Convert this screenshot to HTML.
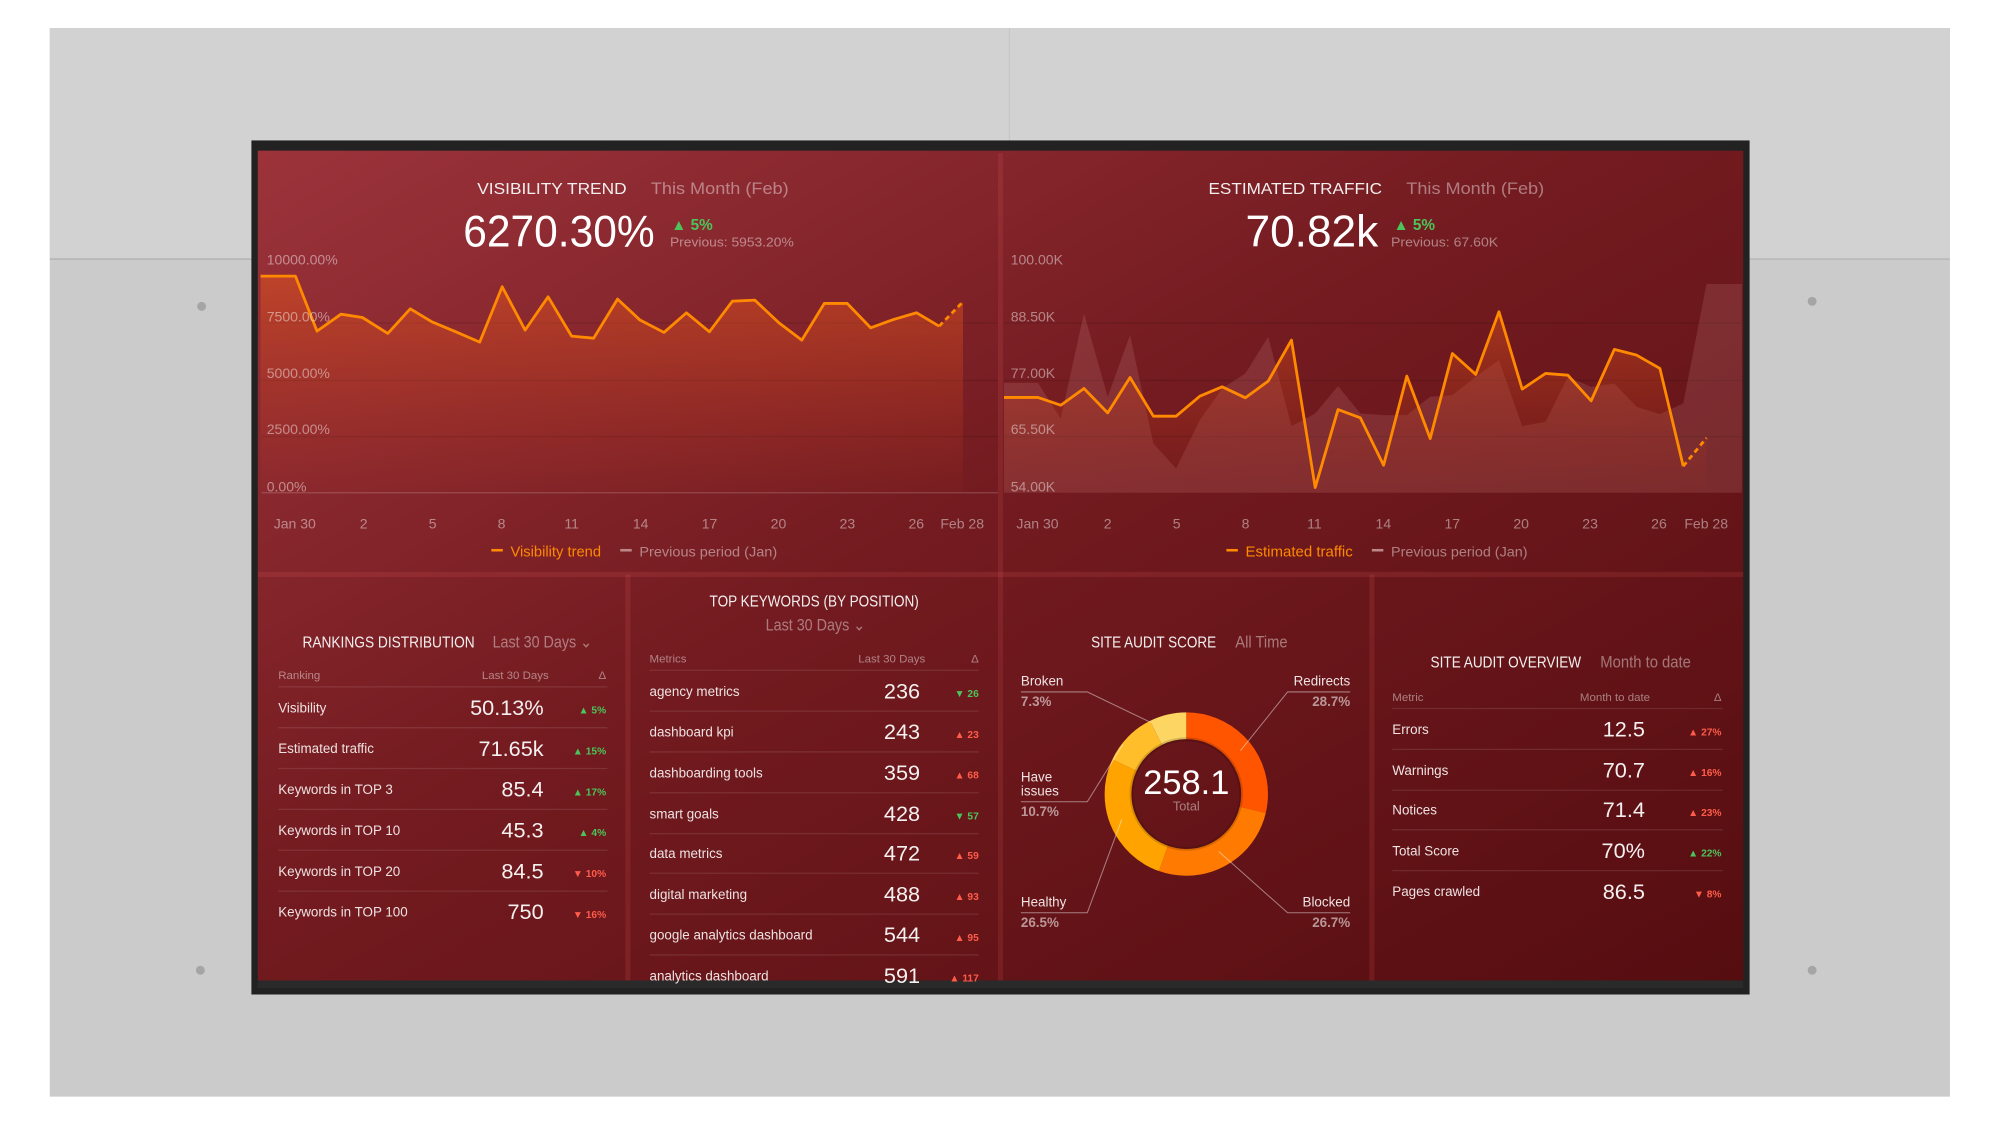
<!DOCTYPE html>
<html><head><meta charset="utf-8"><style>
html,body{margin:0;padding:0;background:#fff;}
svg{display:block;}
text{font-family:"Liberation Sans",sans-serif;}
.t{fill:#f3eeee;font-size:12.5px;}
.s{fill:rgba(255,255,255,0.42);font-size:13px;}
.ax{fill:rgba(255,255,255,0.45);font-size:11px;}
.hd{fill:rgba(255,255,255,0.45);font-size:9px;}
.rl{fill:#eee2e2;font-size:10.5px;}
.v{fill:#f5f0f0;font-size:17px;}
.up{fill:#4cc45a;font-size:8px;font-weight:bold;}
.dn{fill:#ff5c4a;font-size:8px;font-weight:bold;}
.dl{fill:rgba(255,255,255,0.55);font-size:10.5px;font-weight:bold;}
</style></head><body>
<svg width="2001" height="1126" viewBox="0 0 1568 882" preserveAspectRatio="none" xmlns="http://www.w3.org/2000/svg">
<defs>
<linearGradient id="scr" x1="0" y1="0" x2="1" y2="1">
<stop offset="0" stop-color="#9c333b"/><stop offset="0.45" stop-color="#731b20"/><stop offset="1" stop-color="#560d10"/>
</linearGradient>
<linearGradient id="fillL" x1="0" y1="0" x2="0" y2="1">
<stop offset="0" stop-color="#e0541e" stop-opacity="0.55"/><stop offset="1" stop-color="#c03a1e" stop-opacity="0.05"/>
</linearGradient>
<linearGradient id="fillR" x1="0" y1="0" x2="0" y2="1">
<stop offset="0" stop-color="#d9521d" stop-opacity="0.5"/><stop offset="1" stop-color="#b03018" stop-opacity="0.05"/>
</linearGradient>
</defs>
<rect x="0" y="0" width="1568" height="882" fill="#fff"/>
<rect x="39" y="22" width="1489" height="837" fill="#cbcbcb"/>
<rect x="39" y="22" width="1489" height="180" fill="#d2d2d2"/>
<line x1="39" y1="203" x2="198" y2="203" stroke="#b0b0b0" stroke-width="1"/>
<line x1="1370" y1="203" x2="1528" y2="203" stroke="#b5b5b5" stroke-width="1"/>
<line x1="791" y1="22" x2="791" y2="111" stroke="#c6c6c6" stroke-width="1"/>
<circle cx="158" cy="240" r="3.5" fill="#a5a5a5"/><circle cx="1420" cy="236" r="3.5" fill="#a5a5a5"/>
<circle cx="157" cy="760" r="3.5" fill="#a5a5a5"/><circle cx="1420" cy="760" r="3.5" fill="#a5a5a5"/>
<!-- monitor -->
<rect x="197" y="110" width="1174" height="669" fill="#222" />
<rect x="202" y="118" width="1164" height="650" fill="url(#scr)"/>
<rect x="202" y="768" width="1164" height="6" fill="#2a2a2a"/>
<g stroke="rgba(255,110,110,0.13)" stroke-width="4">
<line x1="784" y1="120" x2="784" y2="768"/>
<line x1="202" y1="450" x2="1366" y2="450"/>
<line x1="492" y1="450" x2="492" y2="768"/>
<line x1="1075" y1="450" x2="1075" y2="768"/>
</g>

<!-- LEFT CHART -->
<g stroke="rgba(0,0,0,0.12)" stroke-width="1">
<line x1="205" y1="253" x2="782" y2="253"/><line x1="205" y1="298" x2="782" y2="298"/><line x1="205" y1="342" x2="782" y2="342"/>
</g>
<line x1="205" y1="386" x2="782" y2="386" stroke="rgba(255,255,255,0.18)"/>
<polygon fill="url(#fillL)" points="204.2,216.3 231.5,216.3 248.4,259.4 267.2,246.1 284,248.7 303.9,261.2 321.5,241.9 338.4,252.1 357.2,259.9 375.9,268 393.5,224.6 411.5,258.6 429.5,232.5 447.9,263.3 465.2,264.9 483.9,234.3 501.5,250.7 520.3,260.4 537.9,245 555.9,259.9 573.9,235.9 591.5,235.1 610.3,252.8 628.3,266.4 645.9,237.7 663.9,237.7 682.3,256.8 700.3,250.2 718.3,245 735.9,255.5 754.6,236.4 754.6,386 204.2,386"/>
<polyline fill="none" stroke="#ff8a00" stroke-width="2.2" stroke-linejoin="round" points="204.2,216.3 231.5,216.3 248.4,259.4 267.2,246.1 284,248.7 303.9,261.2 321.5,241.9 338.4,252.1 357.2,259.9 375.9,268 393.5,224.6 411.5,258.6 429.5,232.5 447.9,263.3 465.2,264.9 483.9,234.3 501.5,250.7 520.3,260.4 537.9,245 555.9,259.9 573.9,235.9 591.5,235.1 610.3,252.8 628.3,266.4 645.9,237.7 663.9,237.7 682.3,256.8 700.3,250.2 718.3,245 735.9,255.5"/>
<line x1="735.9" y1="255.5" x2="754.6" y2="236.4" stroke="#ff8a00" stroke-width="2.2" stroke-dasharray="4,3"/>
<g class="ax">
<text x="209" y="207">10000.00%</text><text x="209" y="252">7500.00%</text><text x="209" y="296">5000.00%</text><text x="209" y="340">2500.00%</text><text x="209" y="385">0.00%</text>
</g>
<g class="ax" text-anchor="middle">
<text x="231" y="414">Jan 30</text><text x="285" y="414">2</text><text x="339" y="414">5</text><text x="393" y="414">8</text><text x="448" y="414">11</text><text x="502" y="414">14</text><text x="556" y="414">17</text><text x="610" y="414">20</text><text x="664" y="414">23</text><text x="718" y="414">26</text><text x="754" y="414">Feb 28</text>
</g>
<rect x="385" y="430" width="9" height="2" fill="#ff8a00"/><text x="400" y="436" fill="#ff8a00" font-size="11.5" textLength="71" lengthAdjust="spacingAndGlyphs">Visibility trend</text>
<rect x="486" y="430" width="9" height="2" fill="#b88"/><text x="501" y="436" class="ax" font-size="11.5" textLength="108" lengthAdjust="spacingAndGlyphs">Previous period (Jan)</text>
<text x="374" y="152" class="t" textLength="117" lengthAdjust="spacingAndGlyphs">VISIBILITY TREND</text>
<text x="510" y="152" class="s" textLength="108" lengthAdjust="spacingAndGlyphs">This Month (Feb)</text>
<text x="363" y="193" fill="#fff" font-size="35" textLength="150" lengthAdjust="spacingAndGlyphs">6270.30%</text>
<text x="526" y="180" fill="#4cc45a" font-size="12" font-weight="bold">▲ 5%</text>
<text x="525" y="193" fill="rgba(255,255,255,0.45)" font-size="10" textLength="97" lengthAdjust="spacingAndGlyphs">Previous: 5953.20%</text>

<!-- RIGHT CHART -->
<g stroke="rgba(0,0,0,0.12)" stroke-width="1">
<line x1="787" y1="253" x2="1365" y2="253"/><line x1="787" y1="298" x2="1365" y2="298"/><line x1="787" y1="342" x2="1365" y2="342"/>
</g>
<polygon fill="rgba(255,190,190,0.13)" points="786.7,299.9 813.3,299.9 831.2,327.8 849.4,245.5 868,310.8 885.5,262.5 903.8,347.4 921.6,367 940.2,329.1 957.7,304.3 975.9,292.5 993.8,263.8 1012,333.8 1030.6,323.9 1048.5,302.5 1066,323.9 1084.2,325.2 1102.4,325.2 1120.7,310.8 1138.1,309.5 1156.4,295.2 1174.6,282.1 1192.8,333.8 1211.1,330.4 1228.6,295.2 1246.8,303 1265,300.4 1282.5,318.7 1300.7,324.4 1319,316.1 1337.2,222.5 1365,222.5 1365,386 786.7,386"/>
<polygon fill="url(#fillR)" points="786.7,311.3 813.3,311.3 831.2,317.4 849.4,304.3 868,323.4 885.5,295.7 903.8,326 921.6,326 940.2,310.3 957.7,303 975.9,311.6 993.8,298.5 1012,266.4 1030.6,381.9 1048.5,320.8 1066,327.3 1084.2,364.4 1102.4,294.6 1120.7,343.5 1138.1,276.9 1156.4,293.3 1174.6,244.2 1192.8,304.8 1211.1,292.5 1228.6,293.9 1246.8,314 1265,273.7 1282.5,278.2 1300.7,288.6 1319,365.2 1337.2,343 1337.2,386 786.7,386"/>
<polyline fill="none" stroke="#ff8a00" stroke-width="2.2" stroke-linejoin="round" points="786.7,311.3 813.3,311.3 831.2,317.4 849.4,304.3 868,323.4 885.5,295.7 903.8,326 921.6,326 940.2,310.3 957.7,303 975.9,311.6 993.8,298.5 1012,266.4 1030.6,381.9 1048.5,320.8 1066,327.3 1084.2,364.4 1102.4,294.6 1120.7,343.5 1138.1,276.9 1156.4,293.3 1174.6,244.2 1192.8,304.8 1211.1,292.5 1228.6,293.9 1246.8,314 1265,273.7 1282.5,278.2 1300.7,288.6 1319,365.2"/>
<line x1="1319" y1="365.2" x2="1337.2" y2="343" stroke="#ff8a00" stroke-width="2.2" stroke-dasharray="4,3"/>
<g class="ax">
<text x="792" y="207">100.00K</text><text x="792" y="252">88.50K</text><text x="792" y="296">77.00K</text><text x="792" y="340">65.50K</text><text x="792" y="385">54.00K</text>
</g>
<g class="ax" text-anchor="middle">
<text x="813" y="414">Jan 30</text><text x="868" y="414">2</text><text x="922" y="414">5</text><text x="976" y="414">8</text><text x="1030" y="414">11</text><text x="1084" y="414">14</text><text x="1138" y="414">17</text><text x="1192" y="414">20</text><text x="1246" y="414">23</text><text x="1300" y="414">26</text><text x="1337" y="414">Feb 28</text>
</g>
<rect x="961" y="430" width="9" height="2" fill="#ff8a00"/><text x="976" y="436" fill="#ff8a00" font-size="11.5" textLength="84" lengthAdjust="spacingAndGlyphs">Estimated traffic</text>
<rect x="1075" y="430" width="9" height="2" fill="#b88"/><text x="1090" y="436" class="ax" font-size="11.5" textLength="107" lengthAdjust="spacingAndGlyphs">Previous period (Jan)</text>
<text x="947" y="152" class="t" textLength="136" lengthAdjust="spacingAndGlyphs">ESTIMATED TRAFFIC</text>
<text x="1102" y="152" class="s" textLength="108" lengthAdjust="spacingAndGlyphs">This Month (Feb)</text>
<text x="976" y="193" fill="#fff" font-size="35" textLength="104" lengthAdjust="spacingAndGlyphs">70.82k</text>
<text x="1092" y="180" fill="#4cc45a" font-size="12" font-weight="bold">▲ 5%</text>
<text x="1090" y="193" fill="rgba(255,255,255,0.45)" font-size="10" textLength="84" lengthAdjust="spacingAndGlyphs">Previous: 67.60K</text>

<!-- RANKINGS -->
<text x="237" y="507" class="t" font-size="11" textLength="135" lengthAdjust="spacingAndGlyphs">RANKINGS DISTRIBUTION</text>
<text x="386" y="507" class="s" font-size="11" textLength="78" lengthAdjust="spacingAndGlyphs">Last 30 Days ⌄</text>
<text x="218" y="532" class="hd">Ranking</text><text x="430" y="532" class="hd" text-anchor="end">Last 30 Days</text><text x="475" y="532" class="hd" text-anchor="end">Δ</text>
<g stroke="rgba(255,255,255,0.1)"><line x1="218" y1="538" x2="476" y2="538"/><line x1="218" y1="570" x2="476" y2="570"/><line x1="218" y1="602" x2="476" y2="602"/><line x1="218" y1="634" x2="476" y2="634"/><line x1="218" y1="666" x2="476" y2="666"/><line x1="218" y1="698" x2="476" y2="698"/></g>
<g class="rl"><text x="218" y="558">Visibility</text><text x="218" y="590">Estimated traffic</text><text x="218" y="622">Keywords in TOP 3</text><text x="218" y="654">Keywords in TOP 10</text><text x="218" y="686">Keywords in TOP 20</text><text x="218" y="718">Keywords in TOP 100</text></g>
<g class="v" text-anchor="end"><text x="426" y="560">50.13%</text><text x="426" y="592">71.65k</text><text x="426" y="624">85.4</text><text x="426" y="656">45.3</text><text x="426" y="688">84.5</text><text x="426" y="720">750</text></g>
<g text-anchor="end"><text x="475" y="559" class="up">▲ 5%</text><text x="475" y="591" class="up">▲ 15%</text><text x="475" y="623" class="up">▲ 17%</text><text x="475" y="655" class="up">▲ 4%</text><text x="475" y="687" class="dn">▼ 10%</text><text x="475" y="719" class="dn">▼ 16%</text></g>

<!-- TOP KEYWORDS -->
<text x="556" y="475" class="t" font-size="11" textLength="164" lengthAdjust="spacingAndGlyphs">TOP KEYWORDS (BY POSITION)</text>
<text x="600" y="494" class="s" font-size="11" textLength="78" lengthAdjust="spacingAndGlyphs">Last 30 Days ⌄</text>
<text x="509" y="519" class="hd">Metrics</text><text x="725" y="519" class="hd" text-anchor="end">Last 30 Days</text><text x="767" y="519" class="hd" text-anchor="end">Δ</text>
<g stroke="rgba(255,255,255,0.1)"><line x1="509" y1="525" x2="767" y2="525"/><line x1="509" y1="557" x2="767" y2="557"/><line x1="509" y1="589" x2="767" y2="589"/><line x1="509" y1="621" x2="767" y2="621"/><line x1="509" y1="653" x2="767" y2="653"/><line x1="509" y1="684" x2="767" y2="684"/><line x1="509" y1="716" x2="767" y2="716"/><line x1="509" y1="748" x2="767" y2="748"/></g>
<g class="rl"><text x="509" y="545">agency metrics</text><text x="509" y="577">dashboard kpi</text><text x="509" y="609">dashboarding tools</text><text x="509" y="641">smart goals</text><text x="509" y="672">data metrics</text><text x="509" y="704">digital marketing</text><text x="509" y="736">google analytics dashboard</text><text x="509" y="768">analytics dashboard</text></g>
<g class="v" text-anchor="end"><text x="721" y="547">236</text><text x="721" y="579">243</text><text x="721" y="611">359</text><text x="721" y="643">428</text><text x="721" y="674">472</text><text x="721" y="706">488</text><text x="721" y="738">544</text><text x="721" y="770">591</text></g>
<g text-anchor="end"><text x="767" y="546" class="up">▼ 26</text><text x="767" y="578" class="dn">▲ 23</text><text x="767" y="610" class="dn">▲ 68</text><text x="767" y="642" class="up">▼ 57</text><text x="767" y="673" class="dn">▲ 59</text><text x="767" y="705" class="dn">▲ 93</text><text x="767" y="737" class="dn">▲ 95</text><text x="767" y="769" class="dn">▲ 117</text></g>

<!-- SITE AUDIT SCORE -->
<text x="855" y="507" class="t" font-size="11" textLength="98" lengthAdjust="spacingAndGlyphs">SITE AUDIT SCORE</text>
<text x="968" y="507" class="s" font-size="11" textLength="41" lengthAdjust="spacingAndGlyphs">All Time</text>
<g fill="none" stroke-width="21" transform="rotate(-90 929.6 622)">
<circle cx="929.6" cy="622" r="53.5" stroke="#ff5500" stroke-dasharray="96.5 240.1" stroke-dashoffset="0"/>
<circle cx="929.6" cy="622" r="53.5" stroke="#ff7a00" stroke-dasharray="89.8 246.8" stroke-dashoffset="-96.5"/>
<circle cx="929.6" cy="622" r="53.5" stroke="#ffa300" stroke-dasharray="89.1 247.5" stroke-dashoffset="-186.3"/>
<circle cx="929.6" cy="622" r="53.5" stroke="#ffbe2a" stroke-dasharray="36 300.6" stroke-dashoffset="-275.4"/>
<circle cx="929.6" cy="622" r="53.5" stroke="#fcd563" stroke-dasharray="24.6 312" stroke-dashoffset="-311.4"/>
</g>
<circle cx="929.6" cy="622" r="43" fill="none" stroke="rgba(0,0,0,0.15)" stroke-width="3"/>
<text x="929.6" y="622" fill="#fff" font-size="27" text-anchor="middle">258.1</text>
<text x="929.6" y="635" fill="rgba(255,255,255,0.45)" font-size="10" text-anchor="middle">Total</text>
<g stroke="rgba(255,255,255,0.45)" fill="none" stroke-width="0.8">
<polyline points="800,542 852,542 902,566"/>
<polyline points="1058,542 1009,542 972,588"/>
<polyline points="800,628 852,628 880,583"/>
<polyline points="800,715 852,715 879,642"/>
<polyline points="1058,715 1009,715 955,667"/>
</g>
<g class="rl"><text x="800" y="537">Broken</text><text x="1058" y="537" text-anchor="end">Redirects</text><text x="800" y="612">Have</text><text x="800" y="623">issues</text><text x="800" y="710">Healthy</text><text x="1058" y="710" text-anchor="end">Blocked</text></g>
<g class="dl"><text x="800" y="553">7.3%</text><text x="1058" y="553" text-anchor="end">28.7%</text><text x="800" y="639">10.7%</text><text x="800" y="726">26.5%</text><text x="1058" y="726" text-anchor="end">26.7%</text></g>

<!-- SITE AUDIT OVERVIEW -->
<text x="1121" y="523" class="t" font-size="11" textLength="118" lengthAdjust="spacingAndGlyphs">SITE AUDIT OVERVIEW</text>
<text x="1254" y="523" class="s" font-size="11" textLength="71" lengthAdjust="spacingAndGlyphs">Month to date</text>
<text x="1091" y="549" class="hd">Metric</text><text x="1293" y="549" class="hd" text-anchor="end">Month to date</text><text x="1349" y="549" class="hd" text-anchor="end">Δ</text>
<g stroke="rgba(255,255,255,0.1)"><line x1="1091" y1="555" x2="1350" y2="555"/><line x1="1091" y1="587" x2="1350" y2="587"/><line x1="1091" y1="619" x2="1350" y2="619"/><line x1="1091" y1="650" x2="1350" y2="650"/><line x1="1091" y1="682" x2="1350" y2="682"/></g>
<g class="rl"><text x="1091" y="575">Errors</text><text x="1091" y="607">Warnings</text><text x="1091" y="638">Notices</text><text x="1091" y="670">Total Score</text><text x="1091" y="702">Pages crawled</text></g>
<g class="v" text-anchor="end"><text x="1289" y="577">12.5</text><text x="1289" y="609">70.7</text><text x="1289" y="640">71.4</text><text x="1289" y="672">70%</text><text x="1289" y="704">86.5</text></g>
<g text-anchor="end"><text x="1349" y="576" class="dn">▲ 27%</text><text x="1349" y="608" class="dn">▲ 16%</text><text x="1349" y="639" class="dn">▲ 23%</text><text x="1349" y="671" class="up">▲ 22%</text><text x="1349" y="703" class="dn">▼ 8%</text></g>
</svg>
</body></html>
